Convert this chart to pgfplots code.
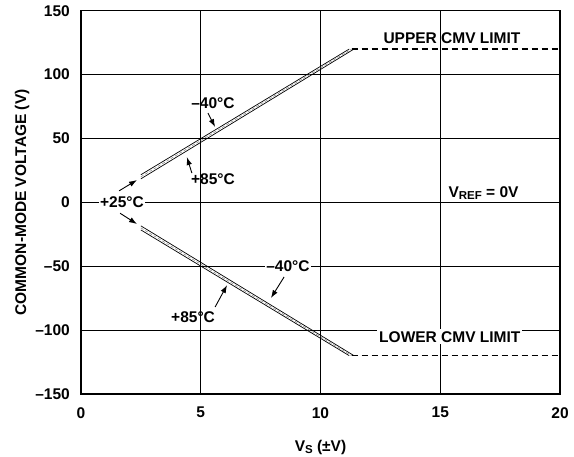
\documentclass[border=0pt]{standalone}
\usepackage{pgfplots}
\pgfplotsset{compat=1.18}
\usepackage{fontspec}
\setmainfont{Liberation Sans}
\usetikzlibrary{calc,arrows.meta}
\newcommand{\sub}[1]{\raisebox{-0.35ex}{\fontsize{11.5bp}{12bp}\selectfont #1}}

\begin{document}
\begin{tikzpicture}[font=\fontsize{15.5bp}{18bp}\selectfont\bfseries,
    arr/.style={-{Latex[length=8bp,width=5.5bp]}, line width=0.9bp}]
\begin{axis}[
    scale only axis,
    width=479bp, height=383.3bp,
    xmin=0, xmax=20, ymin=-150, ymax=150,
    xtick={0,5,10,15,20},
    ytick={-150,-100,-50,0,50,100,150},
    xticklabels={0,5,10,15,20},
    yticklabels={–150,–100,–50,0,50,100,150},
    grid=major,
    major grid style={black, line width=0.9bp},
    major tick length=0pt,
    axis line style={line width=1.5bp},
    yticklabel style={inner sep=0pt, anchor=east, xshift=-11bp},
    xticklabel style={inner sep=0pt, anchor=north, yshift=-13bp},
    xlabel={V\sub{S} (±V)},
    ylabel={COMMON-MODE VOLTAGE (V)},
    xlabel style={at={($(axis description cs:0.5,0)+(0,-53bp)$)}, anchor=center},
    ylabel style={at={($(axis description cs:0,0.5)+(-59bp,0)$)}, anchor=center},
    clip=false,
]
% upper branch: -40, +25, +85
\addplot[black, line width=0.7bp] coordinates {(2.5,21.6) (11.2,120)};
\addplot[gray, line width=0.5bp, dash pattern=on 3bp off 2bp] coordinates {(2.5,20) (11.3,120)};
\addplot[black, line width=0.7bp] coordinates {(2.5,18.4) (11.4,120)};
% lower branch: -40, +25, +85
\addplot[black, line width=0.7bp] coordinates {(2.5,-18.4) (11.4,-120)};
\addplot[gray, line width=0.5bp, dash pattern=on 3bp off 2bp] coordinates {(2.5,-20) (11.3,-120)};
\addplot[black, line width=0.7bp] coordinates {(2.5,-21.6) (11.2,-120)};
% CMV limits
\addplot[black, line width=1.3bp, dash pattern=on 6bp off 4bp] coordinates {(11.3,120) (20,120)};
\addplot[black, line width=1.3bp, dash pattern=on 6bp off 4bp] coordinates {(11.3,-120) (20,-120)};

% annotations
\node at (axis cs:15.49,128.6) {UPPER CMV LIMIT};
\node[fill=white, inner sep=2bp] at (axis cs:15.4,-105.3) {LOWER CMV LIMIT};
\node[anchor=west] at (axis cs:15.2,7.3) {V\sub{REF} = 0V};
\node[fill=white, inner sep=1.5bp] at (axis cs:1.71,0) {+25°C};
\node at (axis cs:5.51,77.8) {–40°C};
\node at (axis cs:5.51,18.3) {+85°C};
\node[fill=white, inner sep=1.5bp] at (axis cs:8.64,-49.9) {–40°C};
\node at (axis cs:4.68,-89.8) {+85°C};
\draw[arr] (axis cs:5.30,69.9) -- (axis cs:5.6,58.9);
\draw[arr] (axis cs:4.63,22.9) -- (axis cs:4.42,35.5);
\draw[arr] (axis cs:1.59,9.0) -- (axis cs:2.34,17.5);
\draw[arr] (axis cs:1.63,-8.5) -- (axis cs:2.34,-17);
\draw[arr] (axis cs:8.48,-58.4) -- (axis cs:7.93,-74.9);
\draw[arr] (axis cs:5.6,-81.9) -- (axis cs:6.1,-64.7);
\end{axis}
\pgfresetboundingbox
\path ($(current axis.south west)+(-81bp,-63bp)$) rectangle ($(current axis.north east)+(14bp,10.7bp)$);
\end{tikzpicture}
\end{document}
